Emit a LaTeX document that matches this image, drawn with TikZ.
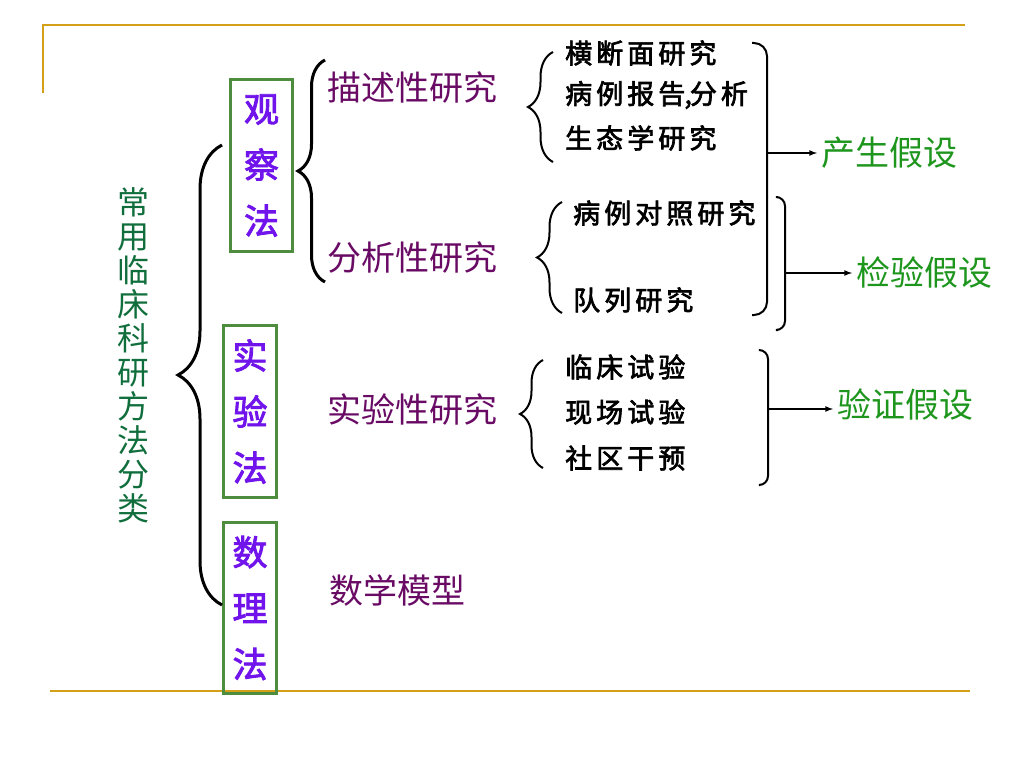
\documentclass[tikz,border=0pt]{standalone}
\usepackage{fontspec}
\usepackage{xcolor}
\usepackage{tikz}
\usetikzlibrary{decorations.pathreplacing}
\newfontfamily\hei{Noto Sans CJK SC}
\newfontfamily\heib[FakeBold=2.5]{Noto Sans CJK SC}
\newfontfamily\heis[FakeBold=2.5,LetterSpace=15]{Noto Sans CJK SC}
\definecolor{gold}{RGB}{212,160,23}
\definecolor{boxgreen}{RGB}{78,140,62}
\definecolor{titlegreen}{RGB}{16,110,60}
\definecolor{methviolet}{RGB}{112,20,235}
\definecolor{plum}{RGB}{105,10,100}
\definecolor{hypgreen}{RGB}{30,150,30}
\tikzset{
	titletext/.style={align=center,inner sep=0pt,text=titlegreen,font=\hei\fontsize{32}{34}\selectfont},
	methbox/.style={draw=boxgreen,line width=3pt,inner sep=0pt,align=center,text=methviolet,font=\heib\fontsize{35}{56}\selectfont},
	kindtext/.style={anchor=west,inner sep=0pt,text=plum,font=\hei\fontsize{34}{34}\selectfont},
	itemtext/.style={anchor=west,inner sep=0pt,font=\heis\fontsize{27}{27}\selectfont},
	hyptext/.style={anchor=west,inner sep=0pt,text=hypgreen,font=\hei\fontsize{34}{34}\selectfont},
	bracefig/.style={decorate,decoration={brace,amplitude=#1},line width=2pt},
	bracketfig/.style={rounded corners=#1,line width=2pt},
	hyparrow/.style={-latex,line width=1.6pt,shorten >=4pt}
}
\begin{document}
\begin{tikzpicture}[x=1pt,y=-1pt]
	\useasboundingbox (0,0) rectangle (1024,768);
	\draw [gold,line width=2.5pt] (43,93) -- (43,25) -- (965,25);
	\draw [gold,line width=2.5pt] (50,691) -- (970,691);
	\node [titletext] (title) at (133,355) {常\\用\\临\\床\\科\\研\\方\\法\\分\\类};
	\node [methbox,minimum width=62pt,minimum height=172pt] (obs) at (261.5,165.5) {观\\察\\法};
	\node [methbox,minimum width=53pt,minimum height=172pt] (exper) at (250,411.5) {实\\验\\法};
	\node [methbox,minimum width=53pt,minimum height=171pt] (math) at (250,608) {数\\理\\法};
	\draw [bracefig=44pt,line width=3pt] (222,605) -- (222,145);
	\draw [bracefig=27pt,line width=3pt] (325,282) -- (325,60);
	\node [kindtext] (descr) at (327,88) {描述性研究};
	\node [kindtext] (analy) at (327,258) {分析性研究};
	\node [kindtext] (trial) at (327,410) {实验性研究};
	\node [kindtext] (model) at (329,590) {数学模型};
	\draw [bracefig=25pt] (553,162) -- (553,52);
	\draw [bracefig=25pt] (562,313) -- (562,202);
	\draw [bracefig=23pt] (543,468) -- (543,360);
	\node [itemtext] (cross) at (565,53) {横断面研究};
	\node [itemtext] (report) at (565,95) {病例报告\kern-1pt,\kern-2pt分析};
	\node [itemtext] (eco) at (565,138) {生态学研究};
	\node [itemtext] (casectl) at (573,213) {病例对照研究};
	\node [itemtext] (cohort) at (573,300) {队列研究};
	\node [itemtext] (clin) at (565,367) {临床试验};
	\node [itemtext] (field) at (565,412) {现场试验};
	\node [itemtext] (commu) at (565,458) {社区干预};
	\draw [bracketfig=13pt] (752,43) -- (767,43) -- (767,315) -- (752,315);
	\draw [bracketfig=9pt] (778,197) -- (785,197) -- (785,330) -- (778,330);
	\draw [bracketfig=9pt] (760,350) -- (768,350) -- (768,485) -- (760,485);
	\node [hyptext] (gen) at (821,153) {产生假设};
	\node [hyptext] (test) at (856,273) {检验假设};
	\node [hyptext] (verif) at (837,405) {验证假设};
	\coordinate (b1) at (767,153);
	\coordinate (b2) at (785,273);
	\coordinate (b3) at (768,409);
	\draw [hyparrow] (b1) -- (b1 -| gen.west);
	\draw [hyparrow] (b2) -- (b2 -| test.west);
	\draw [hyparrow] (b3) -- (b3 -| verif.west);
\end{tikzpicture}
\end{document}
